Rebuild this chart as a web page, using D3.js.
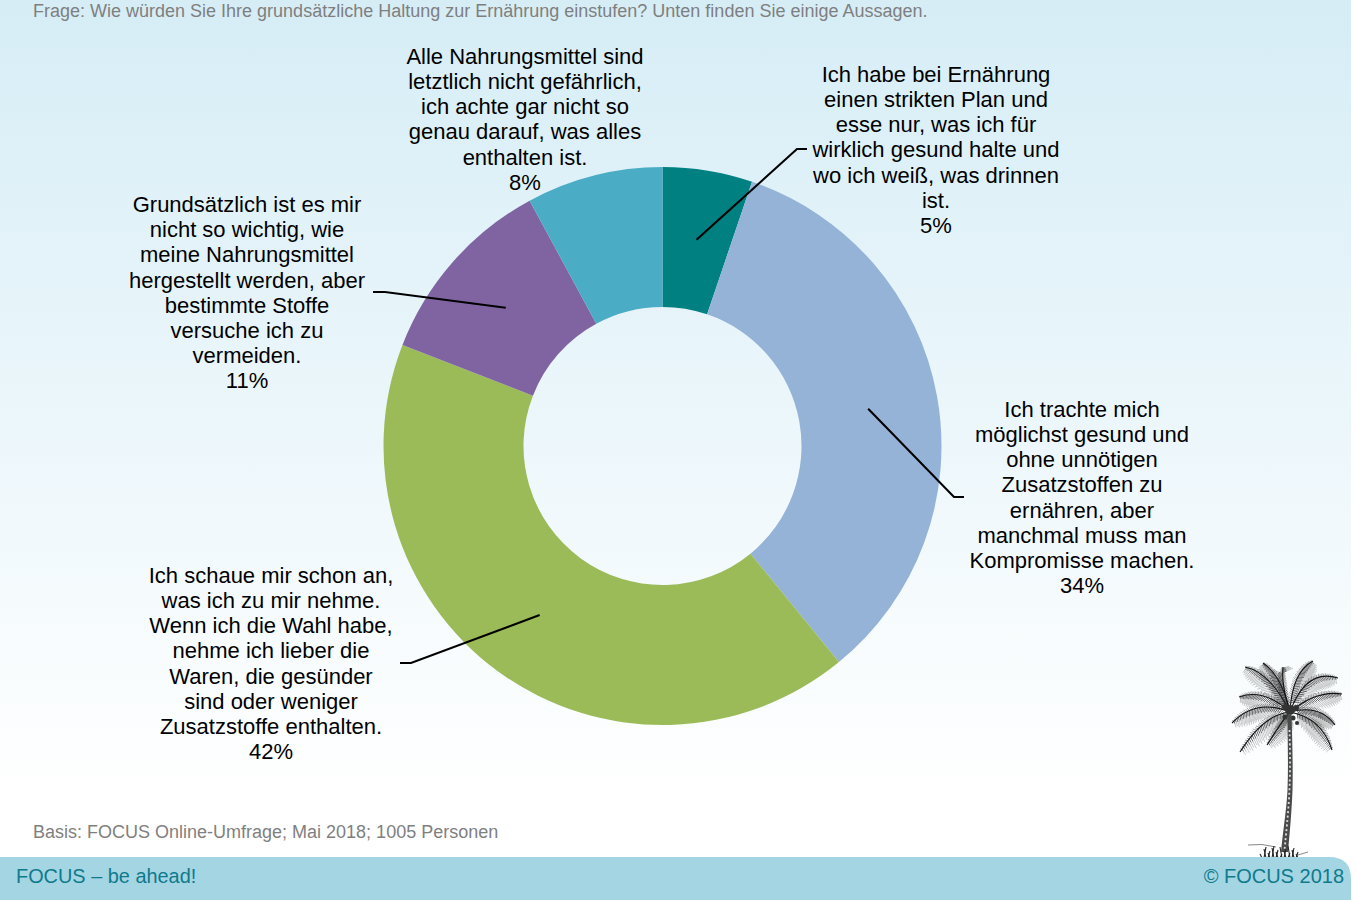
<!DOCTYPE html>
<html>
<head>
<meta charset="utf-8">
<script src="https://d3js.org/d3.v7.min.js"></script>
<style>
    html, body { margin: 0; padding: 0; background: #fff; }
    svg { display: block; }
    text { font-family: "Liberation Sans", Arial, sans-serif; }
</style>
</head>
<body>
<svg id="chart"></svg>
<script>
var question = "Frage: Wie würden Sie Ihre grundsätzliche Haltung zur Ernährung einstufen? Unten finden Sie einige Aussagen.";
var basis = "Basis: FOCUS Online-Umfrage; Mai 2018; 1005 Personen";
var footerLeft = "FOCUS – be ahead!";
var footerRight = "© FOCUS 2018";

var values = [5.2, 33.9, 41.8, 11.2, 7.9];
var percents = ["5%", "34%", "42%", "11%", "8%"];
var colors = ["#008080", "#95b3d7", "#9bbb59", "#8064a2", "#4bacc6"];
var labels = [
    ["Ich habe bei Ernährung", "einen strikten Plan und", "esse nur, was ich für", "wirklich gesund halte und", "wo ich weiß, was drinnen", "ist."],
    ["Ich trachte mich", "möglichst gesund und", "ohne unnötigen", "Zusatzstoffen zu", "ernähren, aber", "manchmal muss man", "Kompromisse machen."],
    ["Ich schaue mir schon an,", "was ich zu mir nehme.", "Wenn ich die Wahl habe,", "nehme ich lieber die", "Waren, die gesünder", "sind oder weniger", "Zusatzstoffe enthalten."],
    ["Grundsätzlich ist es mir", "nicht so wichtig, wie", "meine Nahrungsmittel", "hergestellt werden, aber", "bestimmte Stoffe", "versuche ich zu", "vermeiden."],
    ["Alle Nahrungsmittel sind", "letztlich nicht gefährlich,", "ich achte gar nicht so", "genau darauf, was alles", "enthalten ist."]
];

var Width = 1356, Height = 900, PageW = 1351;
var CX = 662.5, CY = 446, Outer = 279, Inner = 139;
var LineH = 25.2, LabelSize = 22;

// label block position (centre x, first baseline) and leader elbow for each slice
var labelPos = [[936, 81.8], [1082, 416.8], [271, 582.8], [247, 212], [525, 63.8]];
var elbows = [[797, 149, 807], [954, 497, 964], [411, 663, 400], [385, 292, 373], null];

var svg = d3.select("#chart").attr("width", Width).attr("height", Height);

var grad = svg.append("defs").append("linearGradient")
    .attr("id", "bg").attr("x1", 0).attr("y1", 0).attr("x2", 0).attr("y2", 1);
grad.append("stop").attr("offset", 0).attr("stop-color", "#d6edf6");
grad.append("stop").attr("offset", 0.92).attr("stop-color", "#ffffff");

svg.append("rect").attr("width", PageW).attr("height", 860).attr("fill", "url(#bg)");

// palm tree decoration: tip x, tip y, rib control x, rib control y
var palm = svg.append("g").attr("fill", "none").attr("stroke", "#222");
var fronds = [
    [1245, 667, 1270, 672], [1263, 663, 1282, 676], [1283, 667, 1281, 684], [1313, 661, 1292, 672],
    [1338, 678, 1306, 668], [1342, 694, 1316, 690], [1335, 725, 1320, 704], [1332, 750, 1322, 718],
    [1267, 745, 1284, 718], [1240, 752, 1264, 714], [1232, 723, 1256, 698], [1239, 697, 1264, 688]
];
var crown = [1290, 712];

fronds.forEach(function(f) {
    var x0 = crown[0], y0 = crown[1];
    function pt(t) {
        var u = 1 - t;
        return [u*u*x0 + 2*u*t*f[2] + t*t*f[0], u*u*y0 + 2*u*t*f[3] + t*t*f[1]];
    }
    d3.range(0.12, 0.99, 0.03).forEach(function(t, i) {
        var p = pt(t), q = pt(t + 0.01);
        var tx = q[0] - p[0], ty = q[1] - p[1], l = Math.sqrt(tx*tx + ty*ty);
        tx /= l; ty /= l;
        var nx = -ty, ny = tx;
        if (ny < 0) { nx = -nx; ny = -ny; }
        // leaflets get longer towards the middle of the frond, every other one a bit shorter
        var w = (i % 2 ? 12 : 14.5) * Math.pow(Math.sin(Math.PI * Math.min(t * 0.9 + 0.08, 1)), 0.5);
        [[1, w, 0.5, 0.5], [1, w * 0.4, 0.9, 0.6], [-1, w * 0.25, 0.7, 0.6]].forEach(function(s) {
            palm.append("line")
                .attr("x1", p[0]).attr("y1", p[1])
                .attr("x2", p[0] + tx * s[1] * 0.45 + nx * s[0] * s[1])
                .attr("y2", p[1] + ty * s[1] * 0.45 + ny * s[0] * s[1])
                .attr("stroke-width", s[2]).attr("stroke-opacity", s[3]);
        });
    });
    palm.append("path")
        .attr("d", "M" + x0 + "," + y0 + "Q" + f[2] + "," + f[3] + " " + f[0] + "," + f[1])
        .attr("stroke", "#111").attr("stroke-width", 1.1);
});

// crown knot and nuts
[[1290, 710, 5], [1285, 707, 3], [1296, 708, 3], [1293, 718, 2.5], [1297, 723, 2], [1285, 717, 2.5]].forEach(function(c) {
    palm.append("circle").attr("cx", c[0]).attr("cy", c[1]).attr("r", c[2])
        .attr("fill", "#333").attr("stroke", "none");
});

// trunk, tapered, with light specks
palm.append("path")
    .attr("d", "M1291.5,714 C1292.5,745 1293,770 1292.5,790 C1291.5,815 1289.5,835 1288,852 L1281,852 C1283,830 1286.5,810 1287.5,790 C1288.5,765 1287.5,740 1287.5,714Z")
    .attr("fill", "#4a4a4a").attr("stroke", "none");
palm.append("path")
    .attr("d", d3.line().curve(d3.curveBasis)([[1289.5, 730], [1290.3, 760], [1289.5, 800], [1284.5, 850]]))
    .attr("stroke", "#ddd").attr("stroke-width", 1.8).attr("stroke-dasharray", "2 2.5");

// ground
palm.append("path").attr("d", "M1248,845Q1262,843 1276,847").attr("stroke", "#888").attr("stroke-width", 1);
d3.range(1262, 1300, 2).forEach(function(x, i) {
    palm.append("line").attr("x1", x).attr("y1", 858)
        .attr("x2", x + (i % 2 ? 2 : -2)).attr("y2", 854 - (i * 7) % 9)
        .attr("stroke", "#222").attr("stroke-width", 1.1);
});
palm.append("path").attr("d", "M1298,855L1308,852").attr("stroke", "#888").attr("stroke-width", 1);

// donut
var pie = d3.pie().sort(null).value(function(d) { return d; });
var arc = d3.arc().innerRadius(Inner).outerRadius(Outer);
var slices = pie(values);
var ring = svg.append("g").attr("transform", "translate(" + CX + "," + CY + ")");
ring.selectAll("path").data(slices).enter().append("path")
    .attr("d", arc)
    .attr("fill", function(d, i) { return colors[i]; });

// leader lines start in the middle of their slice
var leader = d3.line();
svg.selectAll("path.leader")
    .data(slices.filter(function(d, i) { return elbows[i]; }))
    .enter().append("path").attr("class", "leader")
    .attr("fill", "none").attr("stroke", "#000").attr("stroke-width", 2.1)
    .attr("d", function(d) {
        var c = arc.centroid(d), e = elbows[d.index];
        return leader([[c[0] + CX, c[1] + CY], [e[0], e[1]], [e[2], e[1]]]);
    });

// slice labels
labels.forEach(function(lines, i) {
    var t = svg.append("text")
        .attr("text-anchor", "middle")
        .attr("font-size", LabelSize)
        .attr("fill", "#000");
    lines.concat(percents[i]).forEach(function(s, j) {
        t.append("tspan")
            .attr("x", labelPos[i][0])
            .attr("y", labelPos[i][1] + j * LineH)
            .text(s);
    });
});

svg.append("text").attr("x", 33).attr("y", 17).attr("font-size", 18).attr("fill", "#7f7f7f").text(question);
svg.append("text").attr("x", 33).attr("y", 838).attr("font-size", 18).attr("fill", "#7f7f7f").text(basis);

// footer bar with rounded top right corner
svg.append("path")
    .attr("d", "M0,857H1329Q1351,857 1351,879V900H0Z")
    .attr("fill", "#a3d5e3");
svg.append("text").attr("x", 16).attr("y", 883).attr("font-size", 19.9).attr("fill", "#0f7a8c").text(footerLeft);
svg.append("text").attr("x", 1344).attr("y", 883).attr("font-size", 20).attr("text-anchor", "end").attr("fill", "#0f7a8c").text(footerRight);
</script>
</body>
</html>
